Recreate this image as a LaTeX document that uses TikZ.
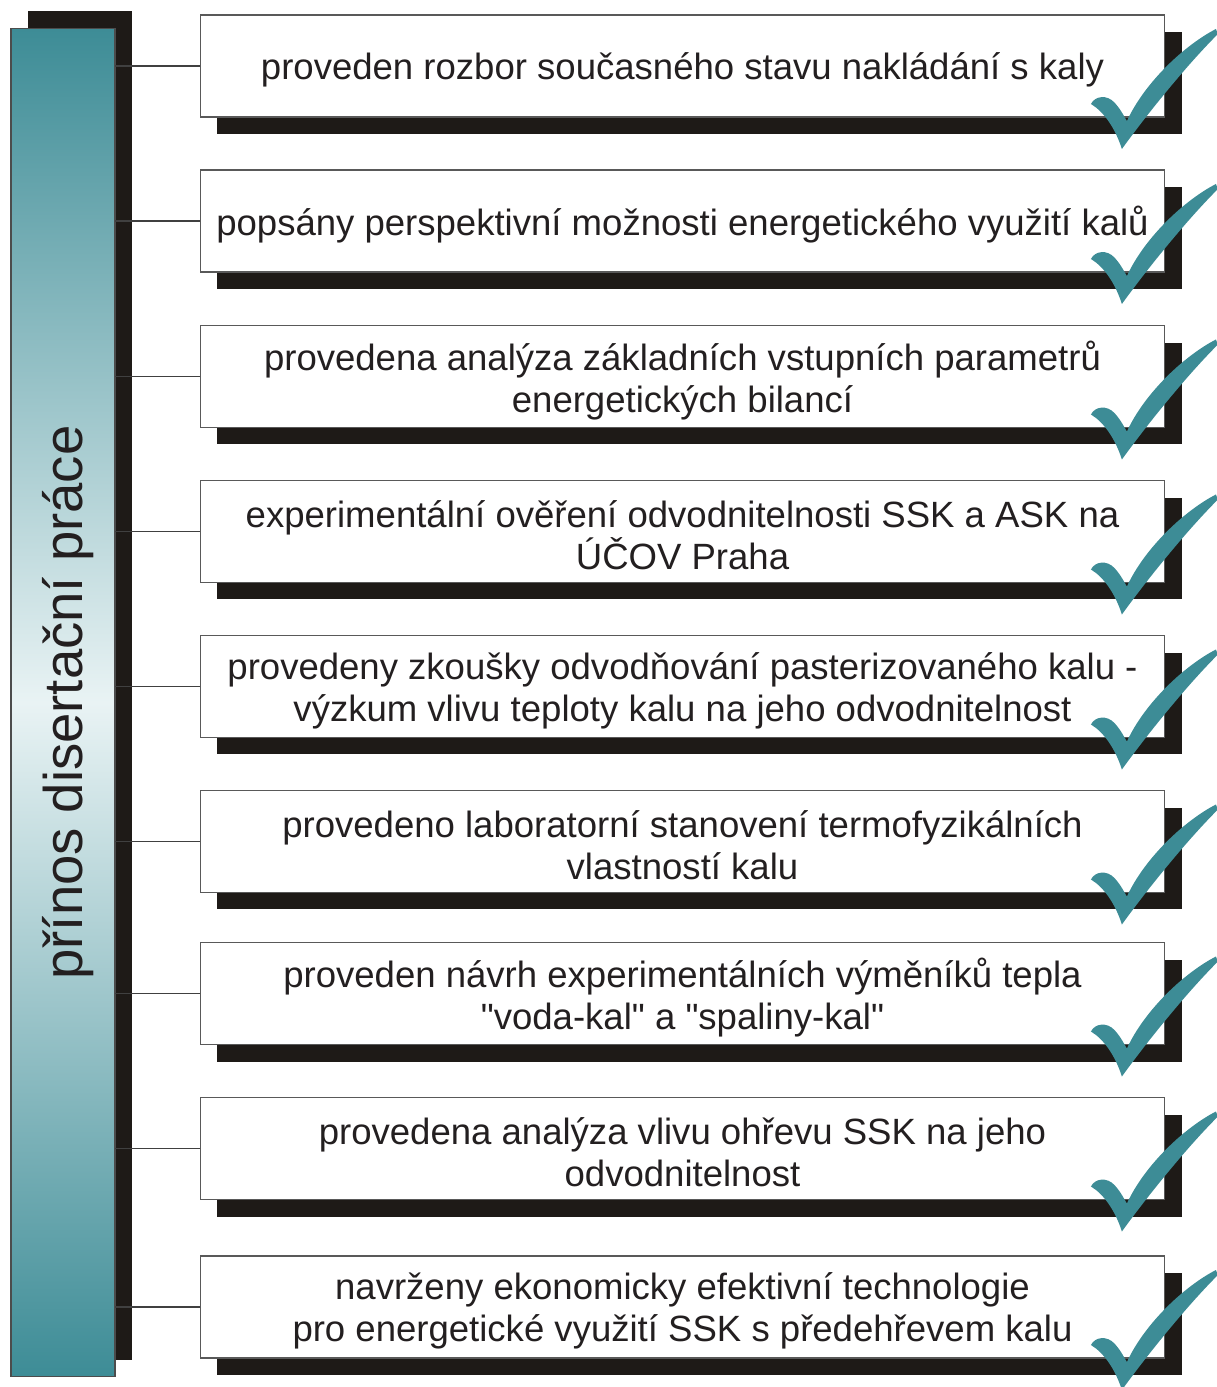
\documentclass[tikz,border=0pt]{standalone}
\usepackage{fontspec}
\setmainfont{Liberation Sans}[Ligatures=TeXOff]
\usetikzlibrary{shadows}
\definecolor{tealdark}{HTML}{3D8C96}
\definecolor{tealpale}{HTML}{E9F3F4}
\definecolor{shadowblack}{HTML}{1E1A17}
\definecolor{ink}{HTML}{231F20}
\tikzset{
  result/.style={draw=black!65, line width=0.6pt, fill=white,
    minimum width=19.3cm, minimum height=2.04cm, outer sep=0pt,
    drop shadow={shadow xshift=0.34cm, shadow yshift=-0.34cm, opacity=1, fill=shadowblack}},
  caption/.style={text=ink, align=center, font=\fontsize{20.8}{24}\selectfont},
  spine/.style={draw=black!70, line width=0.6pt, top color=tealdark, bottom color=tealdark,
    middle color=tealpale, minimum width=2.08cm, minimum height=26.98cm, outer sep=0pt,
    drop shadow={shadow xshift=0.34cm, shadow yshift=0.34cm, opacity=1, fill=shadowblack}},
  link/.style={draw=black!75, line width=0.6pt},
  tick/.pic={
    \fill[tealdark] (-74,-13) .. controls (-70,-21) and (-58,-23) .. (-50,-14)
      .. controls (-45,-8) .. (-38,4)
      .. controls (-20,-35) and (20,-72) .. (51,-88)
      -- (53,-83)
      .. controls (20,-50) and (-20,0) .. (-43,32)
      .. controls (-50,10) and (-62,-6) .. cycle;
  }
}
\begin{document}
\begin{tikzpicture}[x=0.02cm, y=-0.02cm]
  \useasboundingbox (0,0) rectangle (1217,1387);
  \node[spine] (bar) at (63,702.5) {};
  \node[rotate=90, text=ink, font=\fontsize{31}{36}\selectfont] (title) at ([xshift=0.1cm]bar.center) {přínos disertační práce};
  \foreach \y/\txt [count=\i] in {
      66/{proveden rozbor současného stavu nakládání s kaly},
      221/{popsány perspektivní možnosti energetického využití kalů},
      376.5/{provedena analýza základních vstupních parametrů\\energetických bilancí},
      531.5/{experimentální ověření odvodnitelnosti SSK a ASK na\\ÚČOV Praha},
      686.5/{provedeny zkoušky odvodňování pasterizovaného kalu -\\výzkum vlivu teploty kalu na jeho odvodnitelnost},
      841.5/{provedeno laboratorní stanovení termofyzikálních\\vlastností kalu},
      993.5/{proveden návrh experimentálních výměníků tepla\\"voda-kal" a "spaliny-kal"},
      1148.5/{provedena analýza vlivu ohřevu SSK na jeho\\odvodnitelnost},
      1307/{navrženy ekonomicky efektivní technologie\\pro energetické využití SSK s předehřevem kalu}} {
    \node[result] (b\i) at (682.5,\y) {};
    \node[caption] (t\i) at ([yshift=-0.08cm]b\i.center) {\txt};
    \draw[link] (b\i.west) -- (b\i.west -| bar.east);
    \pic at (b\i.south east) {tick};
  }
\end{tikzpicture}
\end{document}
